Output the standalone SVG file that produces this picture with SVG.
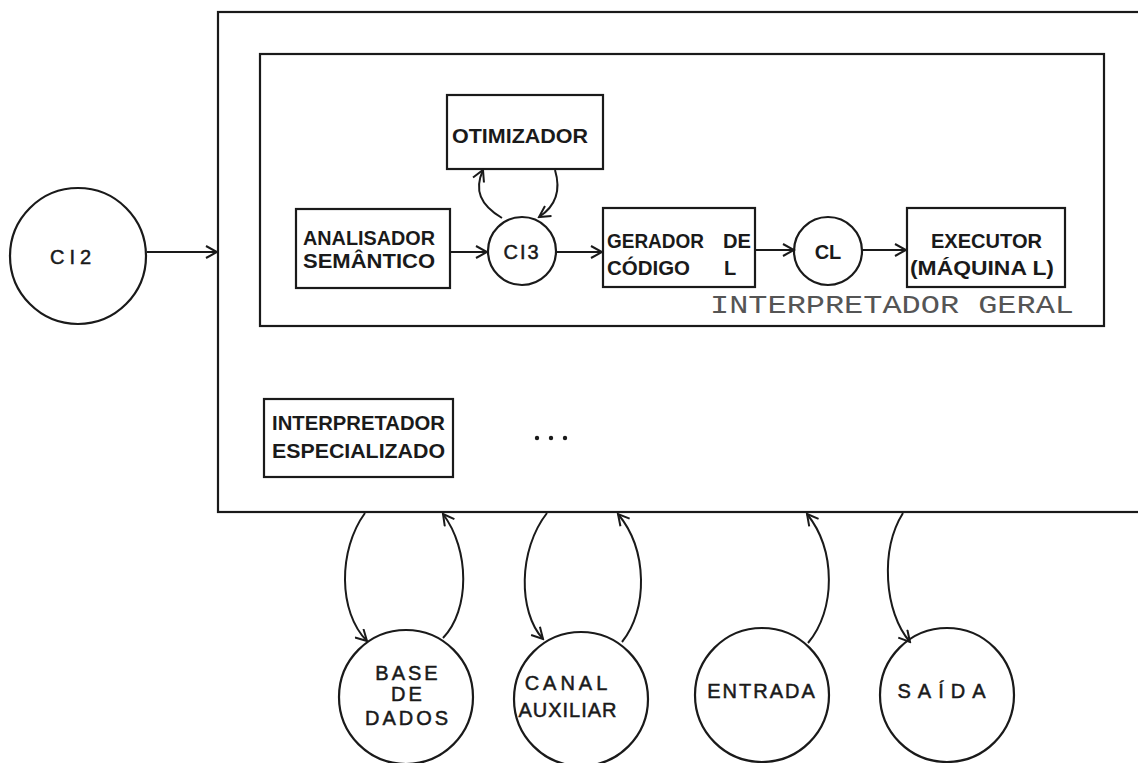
<svg xmlns="http://www.w3.org/2000/svg" width="1138" height="763" viewBox="0 0 1138 763">
<style>
.box{fill:none;stroke:#1a1a1a;stroke-width:2.2}
.ln{fill:none;stroke:#1a1a1a;stroke-width:2}
.t{font-family:"Liberation Sans",Arial,sans-serif;font-weight:bold;font-size:20px;fill:#1a1a1a}
.tc{font-family:"Liberation Sans",Arial,sans-serif;font-size:20px;fill:#1a1a1a;stroke:#1a1a1a;stroke-width:0.5}
.mono{font-family:"Liberation Mono","Courier New",monospace;font-size:25px;fill:#555}
</style>
<defs>
<marker id="ah" markerWidth="14" markerHeight="14" refX="12" refY="7" orient="auto" markerUnits="userSpaceOnUse">
<path d="M1,1 L12,7 L1,13" fill="none" stroke="#1a1a1a" stroke-width="2"/>
</marker>
</defs>
<rect width="1138" height="763" fill="#fff"/>

<g id="interpretador-outer">
<rect class="box" x="218" y="12" width="960" height="500"/>
</g>
<g id="interpretador-geral">
<rect class="box" x="260" y="54" width="844" height="272"/>
<text class="mono" x="710" y="313" textLength="364" lengthAdjust="spacingAndGlyphs">INTERPRETADOR GERAL</text>
</g>

<g id="ci2">
<circle class="box" cx="78" cy="256" r="68"/>
<text class="tc" x="73" y="264" text-anchor="middle" letter-spacing="5">CI2</text>
</g>
<g id="analisador">
<rect class="box" x="296" y="209" width="154" height="79"/>
<text class="t" x="303" y="245" textLength="132" lengthAdjust="spacingAndGlyphs">ANALISADOR</text>
<text class="t" x="303" y="268" textLength="132" lengthAdjust="spacingAndGlyphs">SEMÂNTICO</text>
</g>
<g id="otimizador">
<rect class="box" x="447" y="95" width="156" height="74"/>
<text class="t" x="452" y="143" textLength="136" lengthAdjust="spacingAndGlyphs">OTIMIZADOR</text>
</g>
<g id="ci3">
<circle class="box" cx="522" cy="251" r="34"/>
<text class="tc" x="522" y="259" text-anchor="middle" letter-spacing="2">CI3</text>
</g>
<g id="gerador">
<rect class="box" x="603" y="208" width="152" height="79"/>
<text class="t" x="607" y="248" textLength="97" lengthAdjust="spacingAndGlyphs">GERADOR</text>
<text class="t" x="723" y="248" textLength="28" lengthAdjust="spacingAndGlyphs">DE</text>
<text class="t" x="607" y="275" textLength="83" lengthAdjust="spacingAndGlyphs">CÓDIGO</text>
<text class="t" x="724" y="275">L</text>
</g>
<g id="cl">
<circle class="box" cx="828" cy="251" r="34"/>
<text class="t" x="828" y="259" text-anchor="middle">CL</text>
</g>
<g id="executor">
<rect class="box" x="907" y="208" width="158" height="79"/>
<text class="t" x="931" y="248" textLength="111" lengthAdjust="spacingAndGlyphs">EXECUTOR</text>
<text class="t" x="910" y="275" textLength="144" lengthAdjust="spacingAndGlyphs">(MÁQUINA  L)</text>
</g>
<g id="especializado">
<rect class="box" x="264" y="399" width="189" height="78"/>
<text class="t" x="272" y="430" textLength="173" lengthAdjust="spacingAndGlyphs">INTERPRETADOR</text>
<text class="t" x="272" y="458" textLength="173" lengthAdjust="spacingAndGlyphs">ESPECIALIZADO</text>
</g>
<g id="reticencias">
<circle cx="537" cy="438" r="2.2" fill="#1a1a1a"/>
<circle cx="551" cy="438" r="2.2" fill="#1a1a1a"/>
<circle cx="565" cy="438" r="2.2" fill="#1a1a1a"/>
</g>
<g id="base-de-dados">
<circle class="box" cx="406" cy="697" r="67"/>
<text class="tc" x="408" y="680" text-anchor="middle" letter-spacing="3">BASE</text>
<text class="tc" x="408" y="701" text-anchor="middle" letter-spacing="3">DE</text>
<text class="tc" x="408" y="725" text-anchor="middle" letter-spacing="3">DADOS</text>
</g>
<g id="canal-auxiliar">
<circle class="box" cx="581" cy="699" r="67"/>
<text class="tc" x="568" y="690" text-anchor="middle" letter-spacing="4">CANAL</text>
<text class="tc" x="568" y="717" text-anchor="middle" letter-spacing="1">AUXILIAR</text>
</g>
<g id="entrada">
<circle class="box" cx="762" cy="695" r="67"/>
<text class="tc" x="762" y="698" text-anchor="middle" letter-spacing="2">ENTRADA</text>
</g>
<g id="saida">
<circle class="box" cx="947" cy="695" r="67"/>
<text class="tc" x="945" y="698" text-anchor="middle" letter-spacing="7">SAÍDA</text>
</g>

<g id="connectors">
<path class="ln" d="M147,252 H217" marker-end="url(#ah)"/>
<path class="ln" d="M450,252 H487" marker-end="url(#ah)"/>
<path class="ln" d="M556,252 H602" marker-end="url(#ah)"/>
<path class="ln" d="M755,250 H794" marker-end="url(#ah)"/>
<path class="ln" d="M862,250 H906" marker-end="url(#ah)"/>
<path class="ln" d="M502,218 C480,205 474,190 483,170" marker-end="url(#ah)"/>
<path class="ln" d="M555,170 C561,190 556,206 539,217" marker-end="url(#ah)"/>
<path class="ln" d="M365,513 C338,550 338,612 367,641" marker-end="url(#ah)"/>
<path class="ln" d="M443,638 C470,610 470,550 443,514" marker-end="url(#ah)"/>
<path class="ln" d="M547,513 C518,550 518,612 543,639" marker-end="url(#ah)"/>
<path class="ln" d="M622,642 C648,610 648,550 618,514" marker-end="url(#ah)"/>
<path class="ln" d="M808,643 C836,610 836,550 807,514" marker-end="url(#ah)"/>
<path class="ln" d="M903,513 C880,550 884,612 910,642" marker-end="url(#ah)"/>
</g>
</svg>
